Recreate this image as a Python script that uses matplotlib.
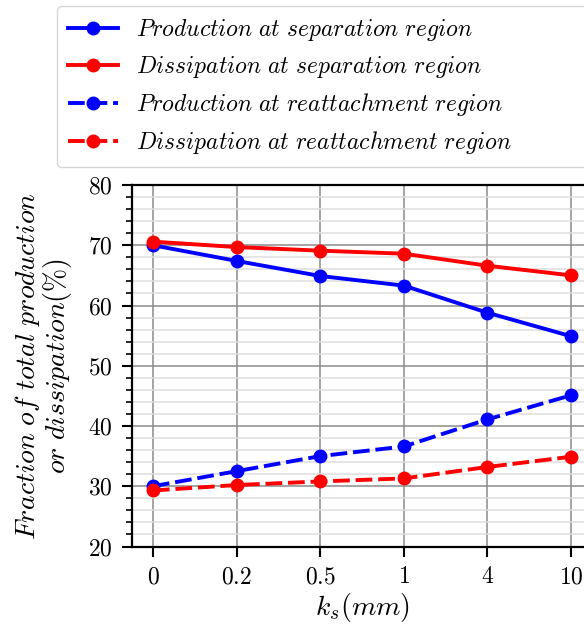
import matplotlib
matplotlib.use("Agg")
import matplotlib.pyplot as plt
from matplotlib.ticker import MultipleLocator, FixedLocator, FixedFormatter

plt.rcParams["mathtext.fontset"] = "cm"
plt.rcParams["font.family"] = "serif"
plt.rcParams["font.serif"] = ["cmr10", "DejaVu Serif"]

# roughness heights (categorical x axis)
ks_labels = ["0", "0.2", "0.5", "1", "4", "10"]

# share of total production / dissipation (%)
prod_sep = [70.0, 67.4, 64.9, 63.3, 58.8, 54.9]
diss_sep = [70.6, 69.7, 69.1, 68.6, 66.6, 65.0]
prod_reatt = [30.0, 32.5, 35.0, 36.6, 41.1, 45.1]
diss_reatt = [29.3, 30.2, 30.8, 31.3, 33.2, 34.9]

series_labels = [
    r"$Production\ at\ separation\ region$",
    r"$Dissipation\ at\ separation\ region$",
    r"$Production\ at\ reattachment\ region$",
    r"$Dissipation\ at\ reattachment\ region$",
]

fig = plt.figure(figsize=(5.84, 6.25), dpi=100)
W, H = 584, 625
ax = fig.add_axes([132 / W, (H - 546.5) / H, 460 / W, 361.5 / H])

x = list(range(len(ks_labels)))
style = dict(lw=2.8, marker="o", ms=9)
dash = (4.3, 1.5)
h1, = ax.plot(x, prod_sep, color="blue", ls="-", label=series_labels[0], **style)
h2, = ax.plot(x, diss_sep, color="red", ls="-", label=series_labels[1], **style)
h3, = ax.plot(x, prod_reatt, color="blue", ls="--", dashes=dash, label=series_labels[2], **style)
h4, = ax.plot(x, diss_reatt, color="red", ls="--", dashes=dash, label=series_labels[3], **style)

ax.set_xlim(-0.25, 5.25)
ax.set_ylim(20, 80)
ax.xaxis.set_major_locator(FixedLocator(x))
ax.xaxis.set_major_formatter(FixedFormatter([f"${s}$" for s in ks_labels]))
ax.yaxis.set_minor_locator(MultipleLocator(2))
ax.set_yticks(range(20, 81, 10))
ax.set_yticklabels([f"${v}$" for v in range(20, 81, 10)])

ax.grid(which="major", axis="both", color="#8c8c8c", lw=1.1)
ax.grid(which="minor", axis="y", color="#dedede", lw=1.1)
ax.set_axisbelow(True)

for sp in ax.spines.values():
    sp.set_linewidth(1.6)
ax.tick_params(which="major", direction="out", length=7, width=1.5, labelsize=17, pad=7)
ax.tick_params(which="minor", direction="out", length=4, width=1.2)

ax.set_xlabel(r"$k_s(mm)$", fontsize=20, labelpad=2)
ax.set_ylabel(r"$Fraction\ of\ total\ production$" + "\n" + r"$or\ dissipation(\%)$",
              fontsize=20, labelpad=10, linespacing=0.95)

fig.legend(handles=[h1, h2, h3, h4], loc="upper left", mode="expand",
           bbox_to_anchor=(57 / W, (H - 163) / H, (620 - 57) / W, 157 / H),
           fontsize=17, handlelength=2.1, handletextpad=0.75, labelspacing=0.46,
           borderpad=0.48, borderaxespad=0.0, frameon=True,
           edgecolor="#cccccc", fancybox=True)

fig.savefig("out.png", dpi=100)
